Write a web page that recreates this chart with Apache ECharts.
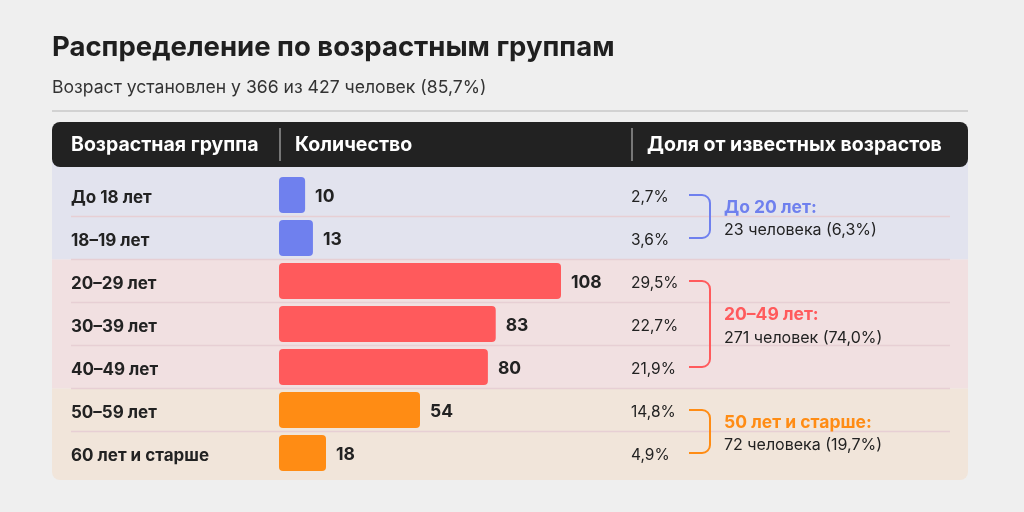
<!DOCTYPE html>
<html><head><meta charset="utf-8">
<script src="https://cdn.jsdelivr.net/npm/echarts@6/dist/echarts.min.js"></script>
<style>html,body{margin:0;padding:0;background:#efefef}#c{width:1024px;height:512px}</style>
</head><body><div id="c"></div>
<script>
const titleText = 'Распределение по возрастным группам';
const subtitleText = 'Возраст установлен у 366 из 427 человек (85,7%)';
const headers = ['Возрастная группа', 'Количество', 'Доля от известных возрастов'];
const categories = ['До 18 лет', '18–19 лет', '20–29 лет', '30–39 лет', '40–49 лет', '50–59 лет', '60 лет и старше'];
const counts = [10, 13, 108, 83, 80, 54, 18];
const shares = ['2,7%', '3,6%', '29,5%', '22,7%', '21,9%', '14,8%', '4,9%'];
const groupOf = [0, 0, 1, 1, 1, 2, 2];
const groupTitles = ['До 20 лет:', '20–49 лет:', '50 лет и старше:'];
const groupTotals = ['23 человека (6,3%)', '271 человек (74,0%)', '72 человека (19,7%)'];
const groupColors = ['#6f80ee', '#ff5a5c', '#ff8c14'];
const bandColors = ['#e2e3ee', '#f1e0e1', '#f1e5da'];

const FONT = 'Inter';
const chart = echarts.init(document.getElementById('c'), null, {renderer: 'canvas'});

const option = {
  backgroundColor: '#efefef',
  animation: false,
  grid: {left: 279, top: 173.5, width: 282, height: 301, containLabel: false},
  xAxis: {type: 'value', min: 0, max: 108, show: false},
  yAxis: [
    {type: 'category', data: categories, inverse: true, z: 5,
     axisLine: {show: false}, axisTick: {show: false}, splitLine: {show: false},
     axisLabel: {align: 'left', margin: 208, formatter: v => '{a|' + v + '}',
       rich: {a: {padding: [5, 0, 0, 0], fontFamily: FONT, fontWeight: 'bold', fontSize: 17, color: '#222'}}}},
    {type: 'category', data: categories, inverse: true, position: 'right', z: 5,
     axisLine: {show: false}, axisTick: {show: false}, splitLine: {show: false},
     axisLabel: {align: 'left', margin: 70, formatter: (v, i) => '{a|' + shares[i] + '}',
       rich: {a: {padding: [4, 0, 0, 0], fontFamily: FONT, fontSize: 15.5, color: '#222'}}}}
  ],
  series: [{
    type: 'bar', barWidth: 36, z: 4,
    data: counts.map((v, i) => ({value: v, itemStyle: {color: groupColors[groupOf[i]], borderRadius: 4}})),
    label: {show: true, position: 'right', distance: 10, offset: [0, 2], fontFamily: FONT, fontWeight: 'bold', fontSize: 17.5, color: '#222'}
  }]
};
chart.setOption(option);

const cy = categories.map(c => chart.convertToPixel({yAxisIndex: 0}, c));
const bounds = [];
for (let i = 0; i < cy.length - 1; i++) bounds.push((cy[i] + cy[i + 1]) / 2);

const mid = (extra) => Object.assign({textVerticalAlign: 'middle', verticalAlign: 'middle', textAlign: 'left', align: 'left'}, extra);
const g = [];
// title & subtitle
g.push({type: 'text', x: 52, y: 48, z: 1, style: mid({text: titleText, fontFamily: FONT, fontWeight: 'bold', fontSize: 27.5, fill: '#1f1f1f'})});
g.push({type: 'text', x: 52, y: 88, z: 1, style: mid({text: subtitleText, fontFamily: FONT, fontSize: 17.6, fill: '#333'})});
g.push({type: 'line', z: 1, shape: {x1: 52, y1: 111, x2: 968, y2: 111}, style: {stroke: '#c8c8c8', lineWidth: 1.5}});
// bands
const groupStart = [0, 2, 5], groupEnd = [1, 4, 6];
for (let k = 0; k < 3; k++) {
  const y0 = k === 0 ? 155 : bounds[groupStart[k] - 1];
  const y1 = k === 2 ? 480 : bounds[groupEnd[k]];
  g.push({type: 'rect', z: -5, shape: {x: 52, y: y0, width: 916, height: y1 - y0, r: k === 2 ? [0, 0, 8, 8] : 0},
    style: {fill: bandColors[k]}});
}
// separators
bounds.forEach(b => g.push({type: 'line', z: -4, shape: {x1: 71, y1: b, x2: 950, y2: b}, style: {stroke: '#e7cfd4', lineWidth: 1.5}}));
// header
g.push({type: 'rect', z: 1, shape: {x: 52, y: 122, width: 916, height: 45, r: 8}, style: {fill: '#222222'}});
const hx = [71, 295, 647];
headers.forEach((h, i) => g.push({type: 'text', z: 2, x: hx[i], y: 145,
  style: mid({text: h, fontFamily: FONT, fontWeight: 'bold', fontSize: 19.5, fill: '#ffffff'})}));
[280, 632].forEach(x => g.push({type: 'line', z: 2, shape: {x1: x, y1: 128, x2: x, y2: 161}, style: {stroke: '#777', lineWidth: 2}}));
// braces and group labels
const R = 8, BX = 710, BL = 689;
for (let k = 0; k < 3; k++) {
  const y1 = cy[groupStart[k]], y2 = cy[groupEnd[k]];
  const st = {stroke: groupColors[k], lineWidth: 2, fill: null};
  g.push({type: 'line', z: 1, shape: {x1: BL, y1: y1, x2: BX - R, y2: y1}, style: st});
  g.push({type: 'arc', z: 1, shape: {cx: BX - R, cy: y1 + R, r: R, startAngle: -Math.PI / 2, endAngle: 0, clockwise: true}, style: st});
  g.push({type: 'line', z: 1, shape: {x1: BX, y1: y1 + R, x2: BX, y2: y2 - R}, style: st});
  g.push({type: 'arc', z: 1, shape: {cx: BX - R, cy: y2 - R, r: R, startAngle: 0, endAngle: Math.PI / 2, clockwise: true}, style: st});
  g.push({type: 'line', z: 1, shape: {x1: BX - R, y1: y2, x2: BL, y2: y2}, style: st});
  const m = (y1 + y2) / 2;
  g.push({type: 'text', z: 1, x: 724, y: m - 9, style: mid({text: groupTitles[k], fontFamily: FONT, fontWeight: 'bold', fontSize: 17.5, fill: groupColors[k]})});
  g.push({type: 'text', z: 1, x: 724, y: m + 14, style: mid({text: groupTotals[k], fontFamily: FONT, fontSize: 16, fill: '#222'})});
}
chart.setOption({graphic: {elements: g}});
</script>
</body></html>
